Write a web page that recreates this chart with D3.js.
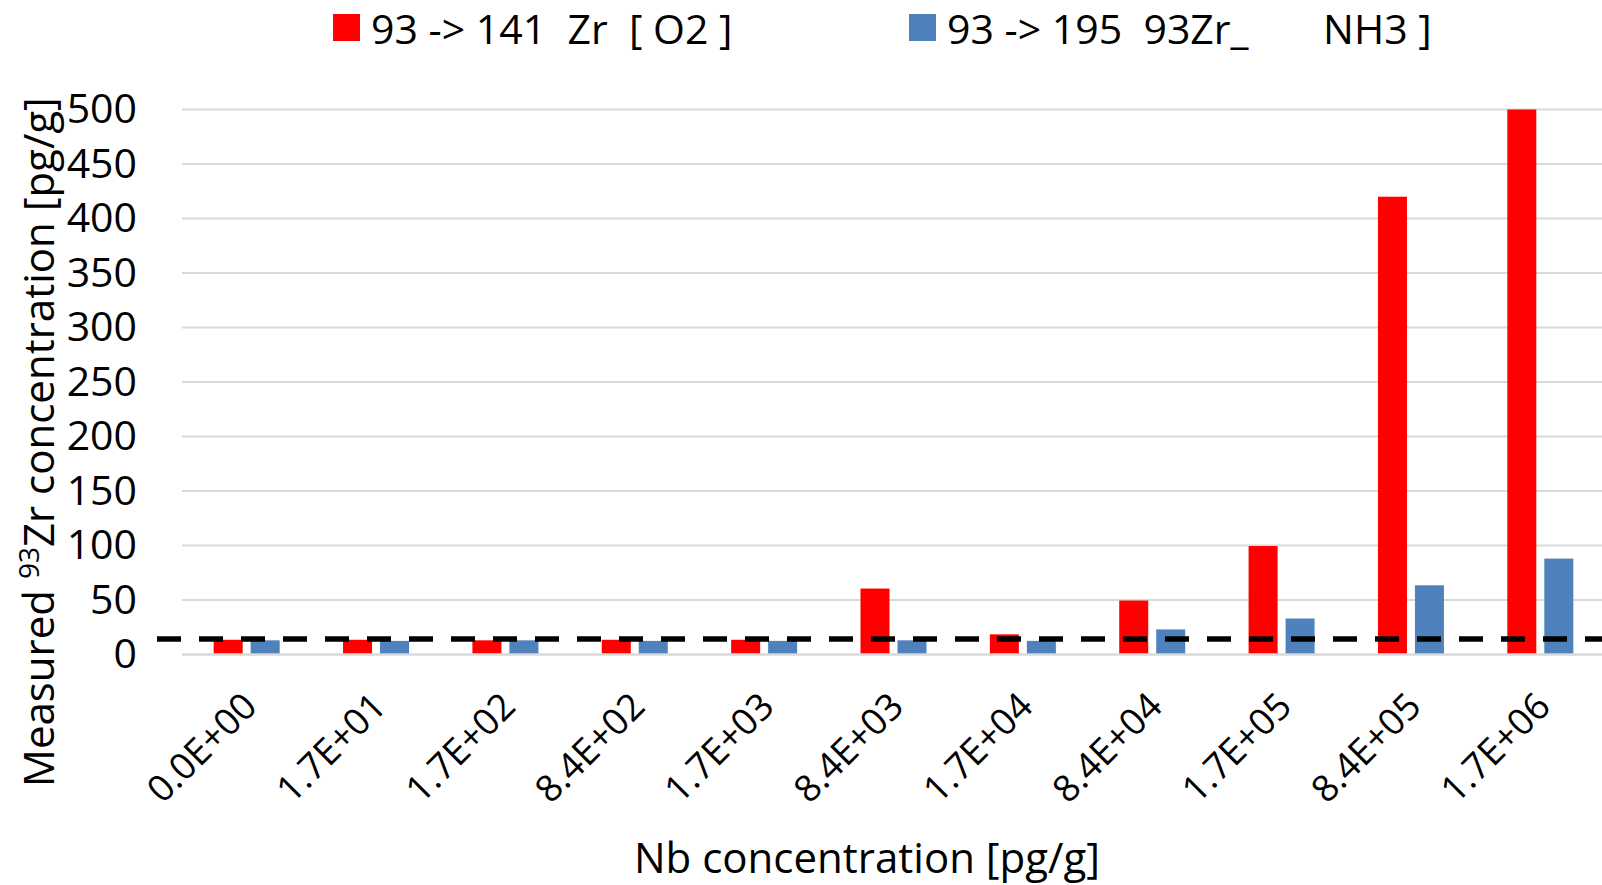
<!DOCTYPE html>
<html>
<head>
<meta charset="utf-8">
<script src="https://cdn.jsdelivr.net/npm/d3@7"></script>
<style>
  html, body { margin: 0; padding: 0; background: #fff; }
  svg { display: block; font-family: "Open Sans", Lato, sans-serif; }
  .pre { white-space: pre; }
</style>
</head>
<body>
<svg id="chart" width="1602" height="885"></svg>
<script>
// Nb concentration spikes (x categories)
const categories = ["0.0E+00", "1.7E+01", "1.7E+02", "8.4E+02", "1.7E+03", "8.4E+03",
                    "1.7E+04", "8.4E+04", "1.7E+05", "8.4E+05", "1.7E+06"];
// Measured 93Zr concentration [pg/g] for each reaction gas mode
const seriesKeys = ["O2", "NH3"];
const seriesNames = ["93 -> 141  Zr  [ O2 ]", "93 -> 195  93Zr_       NH3 ]"];
const o2Values  = [13.5, 13.5, 13, 13.5, 13.5, 60.5, 18.5, 49.5, 99.5, 420, 500];
const nh3Values = [13, 12.5, 13, 12.5, 12.5, 13, 12.5, 23, 33, 63.5, 88];
const seriesColors = ["#FF0000", "#4F81BD"];
// Detection limit drawn as a dashed reference line
const detectionLimit = 14.2;
const yTicks = [0, 50, 100, 150, 200, 250, 300, 350, 400, 450, 500];
const xTitle = "Nb concentration [pg/g]";

const W = 1602, H = 885;
const plot = { left: 182, right: 1605, top: 109.5, bottom: 654.5 };
const svg = d3.select("#chart");

const x0 = d3.scaleBand().domain(categories).range([plot.left, plot.right]);
const groupWidth = 66;
const x1 = d3.scaleBand().domain(seriesKeys).range([0, groupWidth]).paddingInner(0.216);
const y = d3.scaleLinear().domain([0, 500]).range([plot.bottom, plot.top]);

const rows = categories.map((c, i) => ({ cat: c, O2: o2Values[i], NH3: nh3Values[i] }));

// horizontal gridlines
svg.append("g").selectAll("line")
  .data(yTicks.filter(t => t !== 0))
  .join("line")
  .attr("x1", plot.left).attr("x2", W)
  .attr("y1", d => y(d)).attr("y2", d => y(d))
  .attr("stroke", "#D9D9D9").attr("stroke-width", 2);

// bars
const groups = svg.append("g").selectAll("g")
  .data(rows)
  .join("g")
  .attr("transform", d => `translate(${x0(d.cat) + (x0.bandwidth() - groupWidth) / 2},0)`);
groups.selectAll("rect")
  .data(d => seriesKeys.map((k, j) => ({ key: k, value: d[k], color: seriesColors[j] })))
  .join("rect")
  .attr("x", d => x1(d.key))
  .attr("width", x1.bandwidth())
  .attr("y", d => y(d.value))
  .attr("height", d => y(0) - y(d.value))
  .attr("fill", d => d.color);

// category axis line
svg.append("line")
  .attr("x1", plot.left).attr("x2", W)
  .attr("y1", y(0)).attr("y2", y(0))
  .attr("stroke", "#D9D9D9").attr("stroke-width", 2.5);

// detection limit
svg.append("line")
  .attr("x1", plot.left - 25).attr("x2", W)
  .attr("y1", y(detectionLimit)).attr("y2", y(detectionLimit))
  .attr("stroke", "#000").attr("stroke-width", 5.5)
  .attr("stroke-dasharray", "24,18");

// value axis labels
const yAxis = svg.append("g")
  .attr("transform", `translate(${plot.left},0)`)
  .call(d3.axisLeft(y).tickValues(yTicks).tickSize(0).tickPadding(45));
yAxis.select(".domain").remove();
yAxis.selectAll("text")
  .attr("font-family", "'Open Sans', Lato, sans-serif")
  .attr("font-size", 41).attr("fill", "#000");

// category axis labels, rotated
const xAxis = svg.append("g")
  .attr("transform", `translate(0,${plot.bottom})`)
  .call(d3.axisBottom(x0).tickSize(0));
xAxis.select(".domain").remove();
xAxis.selectAll("text")
  .attr("font-family", "'Open Sans', Lato, sans-serif")
  .attr("font-size", 37).attr("fill", "#000")
  .attr("text-anchor", "end")
  .attr("x", 0).attr("y", 0).attr("dy", "0.35em")
  .attr("transform", "translate(3,45) rotate(-45)");

// axis titles
svg.append("text")
  .attr("x", 867).attr("y", 873)
  .attr("text-anchor", "middle")
  .attr("font-size", 42).attr("fill", "#000")
  .text(xTitle);

const yTitle = svg.append("text")
  .attr("transform", "translate(54,442) rotate(-90)")
  .attr("text-anchor", "middle")
  .attr("font-size", 42).attr("fill", "#000");
yTitle.append("tspan").text("Measured ");
yTitle.append("tspan").attr("font-size", 28).attr("dy", -15).text("93");
yTitle.append("tspan").attr("dy", 15).text("Zr concentration [pg/g]");

// legend
const legendX = [333, 909];
const legend = svg.append("g").selectAll("g")
  .data(seriesNames)
  .join("g")
  .attr("transform", (d, i) => `translate(${legendX[i]},0)`);
legend.append("rect")
  .attr("x", 0).attr("y", 14).attr("width", 27).attr("height", 27)
  .attr("fill", (d, i) => seriesColors[i]);
legend.append("text")
  .attr("class", "pre")
  .attr("x", 38).attr("y", 44)
  .attr("font-size", 41).attr("fill", "#000")
  .text(d => d);
</script>
</body>
</html>
